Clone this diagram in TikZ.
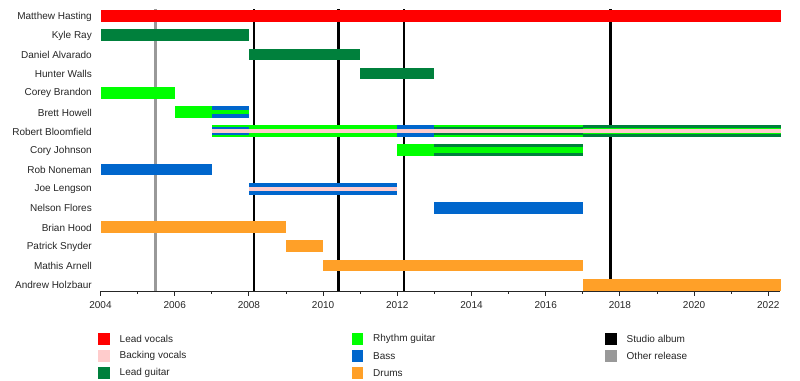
\documentclass[tikz,border=0pt]{standalone}
\usepackage{fontspec}
\setmainfont{Liberation Sans}
\definecolor{cLV}{RGB}{255,0,0}
\definecolor{cBV}{RGB}{255,204,204}
\definecolor{cLG}{RGB}{0,128,60}
\definecolor{cRG}{RGB}{0,255,0}
\definecolor{cBS}{RGB}{0,102,204}
\definecolor{cDR}{RGB}{255,160,40}
\definecolor{cSA}{RGB}{0,0,0}
\definecolor{cOR}{RGB}{153,153,153}
\newcommand\tlbar[5]{\fill[#1] ({#3-2004},{16+19.19*#2-#5}) rectangle ({#4-2004},{16+19.19*#2+#5});}
\begin{document}
\begin{tikzpicture}[x=1pt,y=-1pt,
  lbl/.style={font=\fontsize{10}{12}\selectfont, inner sep=0pt, text=black!85},
  evline/.style={line width=2.7pt},
  axisline/.style={line width=0.9pt, black!85},
  legsq/.style={inner sep=0pt, minimum width=11.5pt, minimum height=12pt}]
\useasboundingbox (0,0) rectangle (800,380);
\fill[white] (0,0) rectangle (800,380);
% row labels
\foreach \t [count=\i from 0] in {Matthew Hasting, Kyle Ray, Daniel Alvarado, Hunter Walls, Corey Brandon, Brett Howell, Robert Bloomfield, Cory Johnson, Rob Noneman, Joe Lengson, Nelson Flores, Brian Hood, Patrick Snyder, Mathis Arnell, Andrew Holzbaur}
  \node[lbl, anchor=east] (row\i) at (92,{16.5+19.19*\i}) {\t};
\begin{scope}[xshift=100.5pt, x=37.1pt]
% event lines
\draw[evline, cOR] (1.49,9) -- (1.49,291);
\foreach \e in {4.14, 6.41, 8.18, 13.75}
  \draw[evline, cSA] (\e,9) -- (\e,291);
% bars
\def\E{2022.34}
\tlbar{cLV}{0}{2004}{\E}{5.85}
\tlbar{cLG}{1}{2004}{2008}{5.85}
\tlbar{cLG}{2}{2008}{2011}{5.85}
\tlbar{cLG}{3}{2011}{2013}{5.85}
\tlbar{cRG}{4}{2004}{2006}{5.85}
\tlbar{cRG}{5}{2006}{2007}{5.85}
\tlbar{cBS}{5}{2007}{2008}{5.85}
\tlbar{cRG}{5}{2007}{2008}{2.2}
% Robert Bloomfield
\tlbar{cRG}{6}{2007}{2012}{5.85}
\tlbar{cBS}{6}{2007}{2008}{4}
\tlbar{cBS}{6}{2012}{2013}{5.85}
\tlbar{cRG}{6}{2013}{2017}{5.85}
\tlbar{cLG}{6}{2013}{2017}{4}
\tlbar{cLG}{6}{2017}{\E}{5.85}
\tlbar{cRG}{6}{2017}{\E}{3.3}
\tlbar{cBV}{6}{2007}{\E}{1.9}
% Cory Johnson
\tlbar{cRG}{7}{2012}{2013}{5.85}
\tlbar{cLG}{7}{2013}{2017}{5.85}
\tlbar{cRG}{7}{2013}{2017}{3}
\tlbar{cBS}{8}{2004}{2007}{5.85}
\tlbar{cBS}{9}{2008}{2012}{5.85}
\tlbar{cBV}{9}{2008}{2012}{1.9}
\tlbar{cBS}{10}{2013}{2017}{5.85}
\tlbar{cDR}{11}{2004}{2009}{5.85}
\tlbar{cDR}{12}{2009}{2010}{5.85}
\tlbar{cDR}{13}{2010}{2017}{5.85}
\tlbar{cDR}{14}{2017}{\E}{5.85}
% axis
\draw[axisline] (0,291) -- (18.31,291);
\foreach \k in {0,...,18}{
  \pgfmathsetmacro\tl{isodd(\k) ? 2.8 : 4.8}
  \draw[axisline] (\k,291) -- +(0,\tl);
}
\foreach \yr in {2004,2006,...,2022}
  \node[lbl] (yr\yr) at ({\yr-2004},305) {\yr};
\end{scope}
% legend
\foreach \c/\t/\x/\y/\n in {cLV/Lead vocals/98/339/a, cBV/Backing vocals/98/356/b, cLG/Lead guitar/98/373/c, cRG/Rhythm guitar/351.5/339/d, cBS/Bass/351.5/356/e, cDR/Drums/351.5/373/f, cSA/Studio album/605/339/g, cOR/Other release/605/356/h}{
  \node[legsq, fill=\c, anchor=west] (sq\n) at (\x,\y) {};
  \node[lbl, anchor=west] (lg\n) at (\x+21.5,\y) {\t};
}
\end{tikzpicture}
\end{document}
